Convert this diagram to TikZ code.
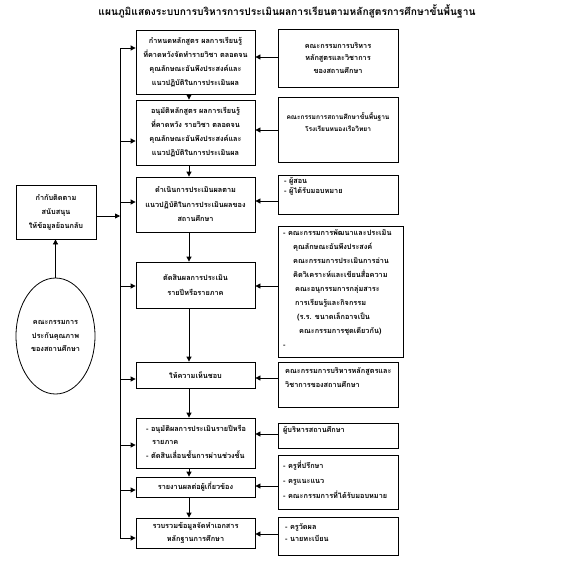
\documentclass[tikz,border=0pt]{standalone}
\usepackage{fontspec}
\newfontfamily\thai[Script=Thai]{Loma}
\usetikzlibrary{arrows.meta,shapes.geometric}
\begin{document}
\begin{tikzpicture}[x=1pt,y=-1pt,
  tf/.style={font=\thai\bfseries\fontsize{7.3}{#1}\selectfont},
  box/.style={draw,line width=0.8pt,inner sep=1pt,align=center},
  lbox/.style={box,minimum width=119pt},
  rbox/.style={box,minimum width=120pt},
  txt/.style={inner sep=0pt,align=left,anchor=north west},
  arr/.style={-{Triangle[length=5pt,width=5pt]},line width=0.8pt},
  ln/.style={line width=0.8pt}]
\useasboundingbox (0,0) rectangle (568,566);
\fill[white] (0,0) rectangle (568,566);

\node[font=\thai\bfseries\fontsize{10.2}{14}\selectfont] (title) at (287,11)
  {แผนภูมิแสดงระบบการบริหารการประเมินผลการเรียนตามหลักสูตรการศึกษาขั้นพื้นฐาน};

% left column
\node[lbox,tf=14,minimum height=64pt] (B1) at (195.5,62)
  {กำหนดหลักสูตร ผลการเรียนรู้\\ที่คาดหวังจัดทำรายวิชา ตลอดจน\\คุณลักษณะอันพึงประสงค์และ\\แนวปฏิบัติในการประเมินผล};
\node[lbox,tf=14,minimum height=65pt] (B2) at (195.5,132.5)
  {อนุมัติหลักสูตร ผลการเรียนรู้\\ที่คาดหวัง รายวิชา ตลอดจน\\คุณลักษณะอันพึงประสงค์และ\\แนวปฏิบัติในการประเมินผล};
\node[lbox,tf=14.5,minimum height=55pt] (B3) at (195.5,204.5)
  {ดำเนินการประเมินผลตาม\\แนวปฏิบัติในการประเมินผลของ\\สถานศึกษา};
\node[lbox,tf=15,minimum height=46pt] (B4) at (195.5,285)
  {ตัดสินผลการประเมิน\\รายปีหรือรายภาค};
\node[lbox,tf=14,minimum height=26pt] (B5) at (195.5,375) {ให้ความเห็นชอบ};
\node[lbox,minimum height=50pt] (B6) at (195.5,443) {};
\node[txt,tf=13.5] (B6t) at (146,425)
  {- อนุมัติผลการประเมินรายปีหรือ\\\hspace*{6pt}รายภาค\\- ตัดสินเลื่อนชั้นการผ่านช่วงชั้น};
\node[lbox,tf=14,minimum height=20pt] (B7) at (195.5,487) {รายงานผลต่อผู้เกี่ยวข้อง};
\node[lbox,tf=13,minimum height=30pt] (B8) at (195.5,533)
  {รวบรวมข้อมูลจัดทำเอกสาร\\หลักฐานการศึกษา};

% right column
\node[rbox,tf=12.5,minimum height=58pt] (R1) at (338,58)
  {คณะกรรมการบริหาร\\หลักสูตรและวิชาการ\\ของสถานศึกษา};
\node[rbox,minimum height=65pt] (R2) at (338,129.5) {};
\node[font=\thai\bfseries\fontsize{6.6}{12}\selectfont,align=center,inner sep=0pt] (R2t) at (338,122)
  {คณะกรรมการสถานศึกษาขั้นพื้นฐาน\\โรงเรียนหนองเรือวิทยา};
\node[rbox,minimum height=39pt] (R3) at (338,194.5) {};
\node[txt,tf=10.5] (R3t) at (284,177) {- ผู้สอน\\- ผู้ได้รับมอบหมาย};
\node[box,minimum width=125pt,minimum height=131pt] (R4) at (340.5,291.5) {};
\node[txt,tf=14] (R4t) at (283,229)
  {- คณะกรรมการพัฒนาและประเมิน\\
   \hspace*{10pt}คุณลักษณะอันพึงประสงค์\\
   \hspace*{10pt}คณะกรรมการประเมินการอ่าน\\
   \hspace*{10pt}คิดวิเคราะห์และเขียนสื่อความ\\
   \hspace*{12pt}คณะอนุกรรมการกลุ่มสาระ\\
   \hspace*{12pt}การเรียนรู้และกิจกรรม\\
   \hspace*{14pt}(ร.ร. ขนาดเล็กอาจเป็น\\
   \hspace*{16pt}คณะกรรมการชุดเดียวกัน)\\
   -};
\node[rbox,minimum height=45pt] (R5) at (338,384.5) {};
\node[txt,tf=14] (R5t) at (285,367)
  {คณะกรรมการบริหารหลักสูตรและ\\วิชาการของสถานศึกษา};
\node[rbox,minimum height=25pt] (R6) at (338,435.5) {};
\node[txt,tf=14] (R6t) at (283,426) {ผู้บริหารสถานศึกษา};
\node[rbox,minimum height=54pt] (R7) at (338,482) {};
\node[txt,tf=15] (R7t) at (283,461)
  {- ครูที่ปรึกษา\\- ครูแนะแนว\\- คณะกรรมการที่ได้รับมอบหมาย};
\node[rbox,minimum height=38pt] (R8) at (338,536) {};
\node[txt,tf=12.5] (R8t) at (285,523) {- ครูวัดผล\\- นายทะเบียน};

% left side
\node[box,tf=14,minimum width=80pt,minimum height=54pt] (L) at (56,212)
  {กำกับติดตาม\\สนับสนุน\\ให้ข้อมูลย้อนกลับ};
\node[draw,ellipse,line width=0.8pt,tf=13.5,align=center,minimum width=79pt,minimum height=116pt,inner sep=0pt] (E) at (55.5,336)
  {คณะกรรมการ\\ประกันคุณภาพ\\ของสถานศึกษา};
\draw[arr] (E.north) -- (E.north |- L.south);

% vertical feedback line
\coordinate (vtop) at (120,48);
\coordinate (vbot) at (120,538);
\draw[ln] (vtop) -- (vbot);
\coordinate (vL) at (120,216);
\draw[arr] (L.east |- vL) -- (vL);
\foreach \b/\y in {B1/48,B2/141,B3/202,B4/286,B5/379,B6/445,B7/490,B8/538}{
  \coordinate (v\b) at (120,\y);
  \draw[arr] (v\b) -- (\b.west |- v\b);
}

% right to left arrows
\foreach \r/\b/\y in {R1/B1/57,R2/B2/130,R3/B3/201,R4/B4/286,R5/B5/378,R6/B6/434,R7/B7/486,R8/B8/534}{
  \coordinate (h\r) at (0,\y);
  \draw[arr] (\r.west |- h\r) -- (\b.east |- h\r);
}

% downward arrows
\coordinate (cx) at (189,0);
\foreach \a/\b in {B1/B2,B2/B3,B3/B4,B4/B5,B5/B6,B6/B7,B7/B8}{
  \draw[arr] (\a.south -| cx) -- (\b.north -| cx);
}
\end{tikzpicture}
\end{document}
